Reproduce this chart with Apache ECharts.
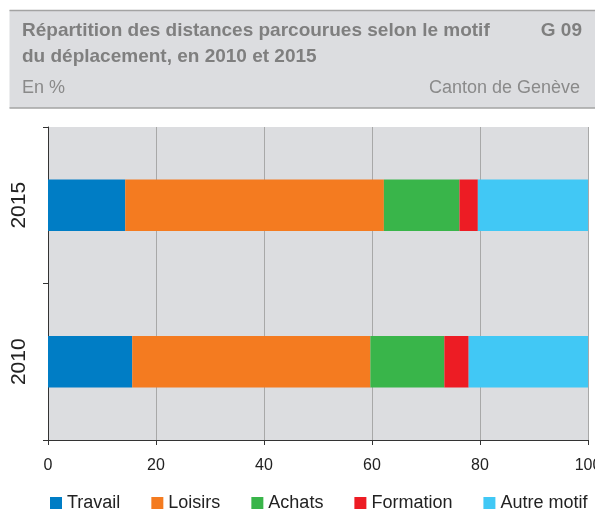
<!DOCTYPE html>
<html>
<head>
<meta charset="utf-8">
<script src="https://cdn.jsdelivr.net/npm/echarts@6/dist/echarts.min.js"></script>
<style>
  html, body { margin: 0; padding: 0; background: #fff; }
  #chart { width: 595px; height: 511px; }
</style>
</head>
<body>
<div id="chart"></div>
<script>
// données (en %)
const years = ['2010', '2015']
const motifs = ['Travail', 'Loisirs', 'Achats', 'Formation', 'Autre motif']
const travail = [15.6, 14.3]
const loisirs = [44.1, 47.9]
const achats = [13.7, 14.0]
const formation = [4.5, 3.4]
const autre = [22.1, 20.4]
const xTicks = [0, 20, 40, 60, 80, 100]

const colors = ['#007dc5', '#f47b20', '#39b54a', '#ed1c24', '#41c8f5']
const values = [travail, loisirs, achats, formation, autre]
const font = "'Liberation Sans', Arial, sans-serif"

const chart = echarts.init(document.getElementById('chart'))

const option = {
    animation: false,
    textStyle: { fontFamily: font },
    graphic: [
        { type: 'rect', shape: { x: 9.5, y: 10, width: 600, height: 98 }, style: { fill: '#dcdde0' } },
        { type: 'line', shape: { x1: 9.5, y1: 10.5, x2: 600, y2: 10.5 }, style: { stroke: '#a3a3a3', lineWidth: 1.5 } },
        { type: 'line', shape: { x1: 9.5, y1: 108, x2: 600, y2: 108 }, style: { stroke: '#a3a3a3', lineWidth: 1.5 } },
        { type: 'text', x: 22, y: 30.5, style: { text: 'Répartition des distances parcourues selon le motif', font: 'bold 19px ' + font, fill: '#7f7f7f', verticalAlign: 'middle' } },
        { type: 'text', x: 22, y: 56.5, style: { text: 'du déplacement, en 2010 et 2015', font: 'bold 19px ' + font, fill: '#7f7f7f', verticalAlign: 'middle' } },
        { type: 'text', x: 582, y: 30.5, style: { text: 'G 09', font: 'bold 19px ' + font, fill: '#7f7f7f', align: 'right', verticalAlign: 'middle' } },
        { type: 'text', x: 22, y: 88, style: { text: 'En %', font: '18px ' + font, fill: '#8a8a8a', verticalAlign: 'middle' } },
        { type: 'text', x: 580, y: 88, style: { text: 'Canton de Genève', font: '18px ' + font, fill: '#8a8a8a', align: 'right', verticalAlign: 'middle' } }
    ],
    legend: {
        data: motifs,
        left: 50,
        top: 494,
        padding: 0,
        itemWidth: 12,
        itemHeight: 12,
        itemGap: 31,
        icon: 'rect',
        textStyle: { fontSize: 18, color: '#222' }
    },
    grid: {
        left: 48,
        right: 7,
        top: 127,
        bottom: 71,
        outerBoundsMode: 'none',
        containLabel: false,
        show: true,
        backgroundColor: '#dcdde0',
        borderWidth: 0
    },
    xAxis: {
        type: 'value',
        min: xTicks[0],
        max: xTicks[xTicks.length - 1],
        interval: 20,
        axisLine: { show: true, lineStyle: { color: '#333', width: 1 } },
        axisTick: { show: true, length: 5, lineStyle: { color: '#333' } },
        axisLabel: { fontSize: 16, color: '#222', margin: 18 },
        splitLine: { show: true, lineStyle: { color: '#a8a8a8', width: 1 } }
    },
    yAxis: {
        type: 'category',
        data: years,
        axisLine: { show: true, lineStyle: { color: '#333', width: 1 } },
        axisTick: { show: true, length: 5, lineStyle: { color: '#333' } },
        axisLabel: { fontSize: 21, color: '#222', rotate: 90, margin: 18 },
        splitLine: { show: false }
    },
    series: motifs.map((name, i) => ({
        name: name,
        type: 'bar',
        stack: 'total',
        barWidth: '33%',
        data: values[i],
        itemStyle: { color: colors[i] }
    }))
}

chart.setOption(option)
</script>
</body>
</html>
